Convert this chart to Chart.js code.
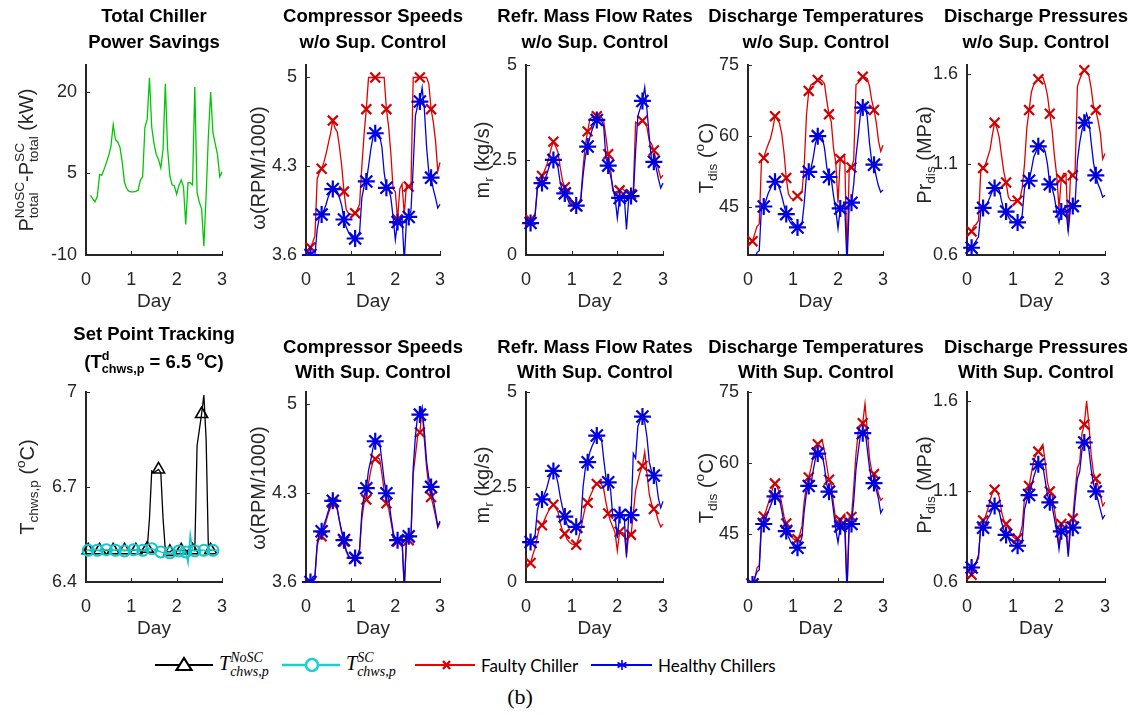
<!DOCTYPE html>
<html>
<head>
<meta charset="utf-8">
<script src="https://cdn.jsdelivr.net/npm/chart.js@4.4.1/dist/chart.umd.min.js"></script>
<style>
  html, body { margin: 0; padding: 0; background: #fff; }
  body { width: 1139px; height: 715px; position: relative; overflow: hidden; font-family: "Liberation Sans", Arial, sans-serif; }
  canvas { position: absolute; }
  .ttl { position: absolute; transform: translateX(-50%); font-weight: bold; font-size: 18.5px; line-height: 26px; text-align: center; white-space: nowrap; color: #000; z-index: 2; }
  .yl { position: absolute; transform: translate(-50%, -50%) rotate(-90deg); font-size: 20px; white-space: nowrap; color: #262626; z-index: 2; }
  .ss { display: inline-block; vertical-align: -0.4em; font-size: 0.68em; line-height: 1.0; text-align: left; }
  .ss > span { display: block; }
  .sb { font-size: 0.68em; vertical-align: -0.35em; line-height: 0; }
  .sp { font-size: 0.68em; vertical-align: 0.6em; line-height: 0; }
  .leg { position: absolute; top: 652px; height: 26px; display: flex; align-items: center; white-space: nowrap; }
  .leg svg { margin-right: 6px; }
  .lt { font-family: Lato, sans-serif; font-size: 17px; color: #000; }
  .m { font-family: "Liberation Serif", serif; font-style: italic; font-size: 20px; color: #000; }
  .m .ss { font-size: 0.7em; vertical-align: -0.45em; }
  .cap { position: absolute; left: 520px; top: 684px; transform: translateX(-50%); font-family: "Liberation Serif", serif; font-size: 22px; }
</style>
</head>
<body>

<!-- titres -->
<div class="ttl" style="left:154px;top:3px">Total Chiller<br>Power Savings</div>
<div class="ttl" style="left:373px;top:3px">Compressor Speeds<br>w/o Sup. Control</div>
<div class="ttl" style="left:595px;top:3px">Refr. Mass Flow Rates<br>w/o Sup. Control</div>
<div class="ttl" style="left:816px;top:3px">Discharge Temperatures<br>w/o Sup. Control</div>
<div class="ttl" style="left:1036px;top:3px">Discharge Pressures<br>w/o Sup. Control</div>

<div class="ttl" style="left:154px;top:320px;line-height:28px">Set Point Tracking<br>(T<span class="ss"><span>d</span><span>chws,p</span></span> = 6.5 <span class="sp">o</span>C)</div>
<div class="ttl" style="left:373px;top:334px;line-height:25px">Compressor Speeds<br>With Sup. Control</div>
<div class="ttl" style="left:595px;top:334px;line-height:25px">Refr. Mass Flow Rates<br>With Sup. Control</div>
<div class="ttl" style="left:816px;top:334px;line-height:25px">Discharge Temperatures<br>With Sup. Control</div>
<div class="ttl" style="left:1036px;top:334px;line-height:25px">Discharge Pressures<br>With Sup. Control</div>

<!-- axes y -->
<div class="yl" style="left:27px;top:160px">P<span class="ss"><span>NoSC</span><span>total</span></span>-P<span class="ss"><span>SC</span><span>total</span></span> (kW)</div>
<div class="yl" style="left:258px;top:168px">&omega;(RPM/1000)</div>
<div class="yl" style="left:482px;top:160px">m<span class="sb">r</span> (kg/s)</div>
<div class="yl" style="left:706px;top:158px">T<span class="sb">dis</span> (<span class="sp">o</span>C)</div>
<div class="yl" style="left:924px;top:155px">Pr<span class="sb">dis</span> (MPa)</div>

<div class="yl" style="left:27px;top:487px">T<span class="sb">chws,p</span> (<span class="sp">o</span>C)</div>
<div class="yl" style="left:258px;top:488px">&omega;(RPM/1000)</div>
<div class="yl" style="left:482px;top:485px">m<span class="sb">r</span> (kg/s)</div>
<div class="yl" style="left:706px;top:488px">T<span class="sb">dis</span> (<span class="sp">o</span>C)</div>
<div class="yl" style="left:924px;top:485px">Pr<span class="sb">dis</span> (MPa)</div>

<!-- leyenda -->
<div class="leg" style="left:155px">
  <svg width="58" height="20"><line x1="0" y1="10" x2="58" y2="10" stroke="#000" stroke-width="2"/><polygon points="29,3 36.5,15 21.5,15" fill="#fff" stroke="#000" stroke-width="2.2"/></svg>
  <span class="m">T<span class="ss"><span>NoSC</span><span>chws,p</span></span></span>
</div>
<div class="leg" style="left:282px">
  <svg width="58" height="20"><line x1="0" y1="10" x2="58" y2="10" stroke="#19d1d1" stroke-width="2.5"/><circle cx="30" cy="10" r="6" fill="#fff" stroke="#19d1d1" stroke-width="2.5"/></svg>
  <span class="m">T<span class="ss"><span>SC</span><span>chws,p</span></span></span>
</div>
<div class="leg" style="left:415px">
  <svg width="60" height="20"><line x1="0" y1="10" x2="60" y2="10" stroke="#f00000" stroke-width="2"/><path d="M28 6 L35 14 M35 6 L28 14" stroke="#e00000" stroke-width="2.4"/></svg>
  <span class="lt">Faulty Chiller</span>
</div>
<div class="leg" style="left:591px">
  <svg width="61" height="20"><line x1="0" y1="10" x2="61" y2="10" stroke="#0000ff" stroke-width="2"/><path d="M31 5 L31 15 M26.5 7.5 L35.5 12.5 M35.5 7.5 L26.5 12.5" stroke="#0000ff" stroke-width="1.6"/></svg>
  <span class="lt">Healthy Chillers</span>
</div>
<div class="cap">(b)</div>

<script>
// Eje x compartido (días)
const days = [0, 0.05, 0.1, 0.15, 0.2, 0.25, 0.3, 0.35, 0.4, 0.45, 0.5, 0.55, 0.6, 0.65, 0.7, 0.75, 0.8, 0.85, 0.9, 0.95,
  1, 1.05, 1.1, 1.15, 1.2, 1.25, 1.3, 1.35, 1.4, 1.45, 1.5, 1.55, 1.6, 1.65, 1.7, 1.75, 1.8, 1.85, 1.9, 1.95,
  2, 2.05, 2.1, 2.15, 2.2, 2.25, 2.3, 2.35, 2.4, 2.45, 2.5, 2.55, 2.6, 2.65, 2.7, 2.75, 2.8, 2.85, 2.9, 2.95, 3];

// Ticks
const dayTicks = [0, 1, 2, 3];
const savingsTicks = [-10, 5, 20];
const speedTicks = [3.6, 4.3, 5];
const flowTicks = [0, 2.5, 5];
const tempTicks = [45, 60, 75];
const pressTicks = [0.6, 1.1, 1.6];
const setpointTicks = [6.4, 6.7, 7];

// Ahorro de potencia total (kW)
const savings = [null, null, 1.0, 0.3, -0.2, 0.8, 4.8, 4.7, 5.8, 7.0, 8.3, 10.0, 14.0, 11.2, 10.8, 9.8, 7.0, 3.3, 2.2, 1.7,
  1.6, 1.6, 1.7, 1.9, 3.8, 4.4, 13.5, 15.0, 22.6, 13.5, 10.5, 8.5, 7.6, 6.0, 9.5, 21.5, 9.5, 4.5, 2.9, 2.7,
  1.2, 2.8, 3.8, 2.6, -4.4, 3.3, 3.3, 2.9, 20.9, 1.5, -0.3, -1.5, -8.4, 1.0, 12.0, 20.0, 12.5, 10.5, 8.5, 4.4, 5.3];

// Sin control supervisor
const speedFaultyNoSC = [3.6, 3.63, 3.66, 3.7, 3.75, 4.2, 4.25, 4.28, 4.33, 4.4, 4.48, 4.56, 4.66, 4.6, 4.57, 4.45, 4.3, 4.1, 3.96, 3.93,
  3.92, 3.92, 3.93, 3.96, 4.0, 4.3, 4.55, 4.75, 5, 5, 5, 5, 5, 5, 5, 5, 4.75, 4.61, 4.4, 4.12,
  4.1, 3.88, 4.12, 4.16, 3.92, 4.16, 4.14, 4.14, 5, 5, 5, 5, 5, 5, 5, 4.95, 4.75, 4.65, 4.5, 4.26, 4.33];
const speedHealthyNoSC = [3.6, 3.6, 3.6, 3.6, 3.6, 3.8, 3.9, 3.92, 3.95, 4.0, 4.06, 4.1, 4.12, 4.12, 4.1, 4.05, 3.99, 3.88, 3.82, 3.78,
  3.75, 3.73, 3.73, 3.75, 3.78, 4.05, 4.14, 4.18, 4.3, 4.43, 4.53, 4.56, 4.56, 4.54, 4.45, 4.25, 4.13, 4.13, 4.05, 3.9,
  3.72, 3.86, 3.86, 3.9, 3.55, 3.88, 3.9, 3.95, 4.3, 4.7, 4.78, 4.81, 4.92, 4.75, 4.45, 4.25, 4.21, 4.12, 4.05, 3.97, 4.0];
const flowFaultyNoSC = [0.97, 0.95, 0.92, 1.0, 1.09, 1.8, 1.98, 2.08, 2.2, 2.35, 2.55, 2.8, 2.98, 2.85, 2.7, 2.3, 1.95, 1.78, 1.6, 1.42,
  1.35, 1.32, 1.3, 1.35, 1.5, 2.3, 2.9, 3.25, 3.58, 3.62, 3.63, 3.65, 3.66, 3.62, 3.55, 3.1, 2.65, 2.3, 1.68, 1.65,
  1.67, 1.7, 1.76, 1.7, 1.64, 1.62, 1.6, 1.7, 3.49, 3.45, 3.5, 3.53, 3.48, 3.35, 3.0, 2.92, 2.75, 2.48, 2.25, 2.02, 2.1];
const flowHealthyNoSC = [0.88, 0.86, 0.84, 0.95, 1.05, 1.75, 1.89, 1.89, 1.95, 2.1, 2.3, 2.45, 2.5, 2.45, 2.3, 1.9, 1.68, 1.62, 1.5, 1.36,
  1.32, 1.3, 1.3, 1.35, 1.45, 2.1, 2.6, 2.85, 3.1, 3.3, 3.45, 3.55, 3.57, 3.55, 3.4, 2.55, 2.35, 2.1, 1.8, 1.5,
  0.97, 1.5, 1.55, 1.55, 0.67, 1.5, 1.55, 1.55, 2.73, 3.66, 3.85, 4.05, 4.41, 3.8, 3.1, 2.48, 2.45, 2.3, 2.0, 1.76, 1.89];
const tempFaultyNoSC = [37.6, 37.7, 37.9, 39.5, 41.0, 41.5, 54.9, 55.4, 57.0, 58.3, 59.5, 61.5, 64.2, 63.5, 62.7, 60.5, 56.5, 51.2, 47.8, 47.0,
  46.7, 47.0, 47.4, 47.8, 48.2, 54.0, 64.5, 69.5, 70.8, 71.1, 71.4, 71.8, 72.0, 71.6, 71.0, 67.5, 64.6, 63.0, 57.5, 54.5,
  46.0, 55.2, 55.8, 55.6, 34.0, 53.4, 53.4, 55.0, 70.8, 71.2, 71.8, 72.5, 72.4, 72.1, 70.5, 67.5, 65.5, 62.9, 59.0, 56.8, 58.1];
const tempHealthyNoSC = [33, 33, 33, 34, 35.5, 35.9, 45.3, 45.2, 46.5, 48.0, 49.0, 50.0, 50.4, 50.2, 49.0, 47.4, 45.5, 43.6, 42.6, 41.7,
  41.2, 40.8, 40.8, 41.0, 41.5, 46.0, 51.8, 52.5, 53.3, 55.5, 58.5, 60.0, 60.2, 59.8, 57.5, 53.5, 51.4, 51.0, 47.5, 44.5,
  40.6, 44.8, 45.1, 45.3, 33, 45.6, 46.0, 50, 55.8, 60, 64.8, 66.0, 66.8, 64.0, 58.5, 54.6, 54.0, 51.5, 49.5, 48.2, 48.7];
const pressFaultyNoSC = [0.71, 0.72, 0.73, 0.76, 0.77, 0.79, 1.07, 1.08, 1.1, 1.14, 1.18, 1.26, 1.33, 1.3, 1.25, 1.15, 1.06, 1.0, 0.92, 0.9,
  0.9, 0.9, 0.9, 0.91, 0.97, 1.1, 1.3, 1.4, 1.5, 1.54, 1.56, 1.57, 1.58, 1.58, 1.54, 1.48, 1.38, 1.29, 1.15, 1.04,
  0.86, 1.02, 1.05, 1.05, 0.73, 1.04, 1.04, 1.06, 1.53, 1.57, 1.6, 1.62, 1.61, 1.59, 1.52, 1.42, 1.4, 1.34, 1.27, 1.13, 1.16];
const pressHealthyNoSC = [0.63, 0.635, 0.64, 0.66, 0.68, 0.7, 0.84, 0.86, 0.87, 0.89, 0.92, 0.95, 0.97, 0.97, 0.96, 0.9, 0.85, 0.84, 0.81, 0.79,
  0.78, 0.78, 0.78, 0.79, 0.82, 0.97, 1.0, 1.01, 1.07, 1.14, 1.17, 1.2, 1.21, 1.2, 1.17, 1.1, 0.99, 0.97, 0.92, 0.84,
  0.78, 0.84, 0.85, 0.85, 0.73, 0.86, 0.87, 0.88, 1.12, 1.22, 1.29, 1.33, 1.38, 1.34, 1.22, 1.11, 1.04, 0.99, 0.96, 0.92, 0.93];

// Seguimiento del set point (°C)
const chwsNoSC = [6.5, 6.5, 6.5, 6.5, 6.5, 6.5, 6.5, 6.5, 6.5, 6.5, 6.5, 6.5, 6.5, 6.5, 6.5, 6.5, 6.5, 6.5, 6.5, 6.5,
  6.5, 6.5, 6.5, 6.5, 6.5, 6.5, 6.5, 6.505, 6.6, 6.75, 6.745, 6.75, 6.755, 6.745, 6.6, 6.5, 6.495, 6.495, 6.5, 6.5,
  6.5, 6.5, 6.5, 6.5, 6.5, 6.5, 6.5, 6.5, 6.5, 6.83, 6.88, 6.93, 6.99, 6.85, 6.5, 6.5, 6.5, null, null, null, null];
const chwsSC = [6.5, 6.5, 6.498, 6.5, 6.502, 6.5, 6.498, 6.5, 6.5, 6.502, 6.5, 6.498, 6.5, 6.5, 6.502, 6.5, 6.5, 6.498, 6.5, 6.5,
  6.5, 6.502, 6.5, 6.5, 6.498, 6.5, 6.5, 6.502, 6.505, 6.505, 6.502, 6.5, 6.498, 6.495, 6.492, 6.49, 6.49, 6.492, 6.49, 6.495,
  6.5, 6.498, 6.502, 6.49, 6.495, 6.46, 6.55, 6.5, 6.498, 6.5, 6.502, 6.5, 6.5, 6.498, 6.5, 6.502, 6.5, 6.5, 6.5, null, null];

// Con control supervisor
const speedFaultySC = [3.55, 3.57, 3.59, 3.62, 3.64, 3.88, 3.96, 3.96, 4.02, 4.08, 4.14, 4.19, 4.22, 4.2, 4.17, 4.08, 3.99, 3.92, 3.84, 3.8,
  3.79, 3.79, 3.79, 3.8, 3.85, 4.1, 4.22, 4.25, 4.38, 4.48, 4.55, 4.57, 4.58, 4.57, 4.45, 4.32, 4.22, 4.18, 4.08, 3.98,
  3.92, 3.92, 3.93, 3.93, 3.55, 3.93, 3.93, 3.94, 4.45, 4.6, 4.75, 4.78, 4.96, 4.72, 4.5, 4.35, 4.27, 4.2, 4.12, 4.03, 4.07];
const speedHealthySC = [3.55, 3.58, 3.6, 3.64, 3.65, 3.9, 3.99, 4.0, 4.05, 4.1, 4.16, 4.21, 4.24, 4.22, 4.18, 4.08, 4.0, 3.93, 3.85, 3.81,
  3.79, 3.79, 3.79, 3.81, 3.86, 4.15, 4.28, 4.34, 4.48, 4.56, 4.66, 4.71, 4.71, 4.7, 4.55, 4.4, 4.3, 4.26, 4.12, 4.0,
  3.92, 3.93, 3.93, 3.94, 3.55, 3.95, 3.96, 3.97, 4.5, 4.75, 4.92, 4.92, 4.98, 4.78, 4.55, 4.42, 4.35, 4.25, 4.15, 4.04, 4.08];
const flowFaultySC = [0.48, 0.46, 0.5, 0.72, 0.9, 1.2, 1.45, 1.49, 1.62, 1.76, 1.88, 1.98, 2.03, 1.95, 1.85, 1.55, 1.35, 1.27, 1.12, 1.05,
  1.0, 0.98, 0.98, 1.15, 1.38, 1.7, 1.98, 2.08, 2.25, 2.38, 2.52, 2.58, 2.62, 2.58, 2.45, 2.1, 1.8, 1.6, 1.45, 1.3,
  0.82, 1.32, 1.3, 1.28, 0.73, 1.24, 1.24, 1.8, 2.4, 2.66, 2.9, 3.05, 3.42, 2.83, 2.3, 2.05, 1.92, 1.82, 1.6, 1.45, 1.53];
const flowHealthySC = [1.03, 1.04, 1.05, 1.12, 1.24, 1.9, 2.12, 2.17, 2.3, 2.45, 2.68, 2.85, 2.92, 2.85, 2.6, 2.24, 1.95, 1.72, 1.5, 1.45,
  1.45, 1.45, 1.45, 1.5, 1.6, 2.5, 3.0, 3.15, 3.42, 3.58, 3.71, 3.85, 3.88, 3.8, 3.25, 2.75, 2.62, 2.45, 1.74, 1.74,
  1.15, 1.76, 1.76, 1.76, 0.65, 1.76, 1.76, 3.38, 3.25, 4.09, 4.26, 4.35, 4.2, 3.8, 3.15, 2.9, 2.8, 2.66, 2.2, 1.95, 2.12];
const tempFaultySC = [33, 33, 33, 35.5, 38, 38.5, 48.3, 48.8, 50, 51.5, 53, 54.8, 55.7, 55, 53.7, 51.5, 48.8, 47.3, 46, 45,
  44.2, 43.8, 44, 45, 46.8, 52, 55.5, 57, 59, 61.5, 63, 64, 64.5, 64.8, 62.5, 59.5, 56.5, 55.4, 51.5, 48.2,
  47.7, 48, 48.8, 49.3, 33, 48.7, 48.7, 55, 62, 66.5, 68, 68.4, 72.5, 67, 61, 58.3, 57.7, 56, 53.5, 52.2, 52.7];
const tempHealthySC = [33, 33, 34.5, 36, 37.1, 37.6, 47, 47.2, 48.5, 49.8, 51, 52.3, 53, 52.8, 52.4, 50, 47.5, 45.7, 44.5, 43.4,
  42.7, 42.1, 42.2, 43, 44.5, 50, 53.8, 55.2, 55.7, 58.5, 61, 62, 62.1, 61.8, 59.1, 55.5, 54, 53.7, 50, 46,
  43.3, 46.7, 46.6, 46.5, 33, 47, 47.2, 52, 58.8, 62.5, 66, 66.3, 67, 63, 59, 56.2, 55.8, 54.5, 52.5, 49.5, 50.4];
const pressFaultySC = [0.63, 0.63, 0.64, 0.67, 0.71, 0.73, 0.93, 0.94, 0.96, 1.0, 1.05, 1.09, 1.11, 1.1, 1.07, 0.99, 0.94, 0.92, 0.9, 0.87,
  0.85, 0.84, 0.84, 0.86, 0.91, 1.06, 1.1, 1.13, 1.2, 1.27, 1.3, 1.32, 1.34, 1.36, 1.26, 1.15, 1.1, 1.08, 1.0, 0.92,
  0.79, 0.92, 0.93, 0.93, 0.76, 0.94, 0.95, 1.1, 1.23, 1.26, 1.42, 1.47, 1.6, 1.47, 1.3, 1.2, 1.17, 1.13, 1.08, 1.02, 1.04];
const pressHealthySC = [0.67, 0.67, 0.68, 0.69, 0.71, 0.75, 0.9, 0.9, 0.92, 0.95, 0.97, 1.0, 1.02, 1.01, 0.99, 0.93, 0.89, 0.86, 0.84, 0.81,
  0.8, 0.8, 0.8, 0.81, 0.83, 1.0, 1.05, 1.08, 1.13, 1.18, 1.22, 1.25, 1.25, 1.24, 1.16, 1.08, 1.04, 1.02, 0.95, 0.88,
  0.78, 0.88, 0.89, 0.89, 0.74, 0.89, 0.9, 1.05, 1.17, 1.21, 1.33, 1.37, 1.38, 1.33, 1.22, 1.14, 1.1, 1.05, 1.0, 0.95, 0.97];

// Indices donde van los marcadores
const markerIdx = [2, 7, 12, 17, 22, 27, 31, 36, 41, 46, 51, 56];
const triIdx = [1, 6, 12, 17, 22, 27, 32, 37, 42, 47, 51, 55];
const circleIdx = [1, 5, 9, 13, 17, 21, 25, 29, 33, 37, 41, 44, 48, 52, 56];

// Estilos de cada serie
const looks = {
  savings: { color: '#00c800', width: 1.3 },
  faulty: { color: '#e00000', width: 1.3, style: 'crossRot', mark: '#d00000', mw: 2.2, r: 7, idx: markerIdx },
  healthy: { color: '#0000e0', width: 1.3, style: 'star', mark: '#0000e0', mw: 2.2, r: 8.5, idx: markerIdx },
  nosc: { color: '#000000', width: 1.3, style: 'triangle', mark: '#000000', mw: 1.6, r: 7, idx: triIdx },
  sc: { color: '#12c8c8', width: 1.5, style: 'circle', mark: '#12c8c8', mw: 2, r: 5.5, idx: circleIdx }
};

function serie(values, look) {
  const L = looks[look];
  return {
    data: values.map((v, i) => ({ x: days[i], y: v })),
    borderColor: L.color,
    borderWidth: L.width,
    pointStyle: L.style || 'circle',
    pointBorderColor: L.mark || L.color,
    pointBackgroundColor: 'rgba(0,0,0,0)',
    pointBorderWidth: L.mw || 1,
    pointRadius: L.idx ? (c => L.idx.includes(c.dataIndex) ? L.r : 0) : 0,
    pointHoverRadius: 0,
    tension: 0,
    fill: false,
    clip: { left: 10, top: 10, right: 10, bottom: 1 }
  };
}

// Paneles: caja del area de trazado [izq, arriba, der, abajo]
const panels = [
  { box: [86, 57, 222, 255], y: [-10, 25], ticks: savingsTicks, sets: [[savings, 'savings']] },
  { box: [306, 57, 440, 255], y: [3.6, 5.1], ticks: speedTicks, sets: [[speedHealthyNoSC, 'healthy'], [speedFaultyNoSC, 'faulty']] },
  { box: [526, 57, 663, 255], y: [0, 5], ticks: flowTicks, sets: [[flowHealthyNoSC, 'healthy'], [flowFaultyNoSC, 'faulty']] },
  { box: [748, 57, 883, 255], y: [35, 75], ticks: tempTicks, sets: [[tempHealthyNoSC, 'healthy'], [tempFaultyNoSC, 'faulty']] },
  { box: [967, 57, 1105, 255], y: [0.6, 1.65], ticks: pressTicks, sets: [[pressHealthyNoSC, 'healthy'], [pressFaultyNoSC, 'faulty']] },
  { box: [86, 384, 222, 582], y: [6.4, 7], ticks: setpointTicks, sets: [[chwsSC, 'sc'], [chwsNoSC, 'nosc']] },
  { box: [306, 384, 440, 582], y: [3.6, 5.1], ticks: speedTicks, sets: [[speedHealthySC, 'healthy'], [speedFaultySC, 'faulty']] },
  { box: [526, 384, 663, 582], y: [0, 5], ticks: flowTicks, sets: [[flowHealthySC, 'healthy'], [flowFaultySC, 'faulty']] },
  { box: [748, 384, 883, 582], y: [35, 75], ticks: tempTicks, sets: [[tempHealthySC, 'healthy'], [tempFaultySC, 'faulty']] },
  { box: [967, 384, 1105, 582], y: [0.6, 1.65], ticks: pressTicks, sets: [[pressHealthySC, 'healthy'], [pressFaultySC, 'faulty']] }
];

const PADL = 70, PADR = 20, PADT = 12, PADB = 60;
const axisColor = '#262626';

// Ticks hacia adentro, estilo MATLAB
const inwardTicks = {
  id: 'inwardTicks',
  afterDraw(chart) {
    const { ctx, chartArea: a, scales: { x, y } } = chart;
    ctx.save();
    ctx.strokeStyle = axisColor;
    ctx.lineWidth = 1;
    x.ticks.forEach(t => {
      const px = Math.round(x.getPixelForValue(t.value)) + 0.5;
      ctx.beginPath(); ctx.moveTo(px, a.bottom); ctx.lineTo(px, a.bottom - 4); ctx.stroke();
    });
    y.ticks.forEach(t => {
      const py = Math.round(y.getPixelForValue(t.value)) + 0.5;
      ctx.beginPath(); ctx.moveTo(a.left, py); ctx.lineTo(a.left + 4, py); ctx.stroke();
    });
    ctx.restore();
  }
};

Chart.defaults.font.family = '"Liberation Sans", Arial, sans-serif';

panels.forEach(p => {
  const [l, t, r, b] = p.box;
  const W = r - l + PADL + PADR, H = b - t + PADT + PADB;
  const cv = document.createElement('canvas');
  cv.width = W; cv.height = H;
  cv.style.left = (l - PADL) + 'px';
  cv.style.top = (t - PADT) + 'px';
  cv.style.width = W + 'px';
  cv.style.height = H + 'px';
  document.body.appendChild(cv);

  new Chart(cv, {
    type: 'line',
    data: { datasets: p.sets.map(s => serie(s[0], s[1])) },
    options: {
      responsive: false,
      animation: false,
      devicePixelRatio: 1,
      events: [],
      layout: { autoPadding: false, padding: { top: PADT, right: PADR, left: 0, bottom: 0 } },
      plugins: { legend: { display: false }, tooltip: { enabled: false } },
      scales: {
        x: {
          type: 'linear', min: 0, max: 3,
          afterBuildTicks: s => { s.ticks = dayTicks.map(v => ({ value: v })); },
          afterFit: s => { s.height = PADB; },
          ticks: { padding: 14, color: axisColor, font: { size: 18 }, maxRotation: 0, autoSkip: false, callback: v => String(v) },
          grid: { display: true, drawOnChartArea: false, drawTicks: false },
          border: { display: true, color: axisColor, width: 2 },
          title: { display: true, text: 'Day', color: axisColor, font: { size: 19 }, padding: { top: 0, bottom: 2 } }
        },
        y: {
          type: 'linear', min: p.y[0], max: p.y[1],
          afterBuildTicks: s => { s.ticks = p.ticks.map(v => ({ value: v })); },
          afterFit: s => { s.width = PADL; },
          ticks: { padding: 9, color: axisColor, font: { size: 18 }, autoSkip: false, callback: v => String(v) },
          grid: { display: true, drawOnChartArea: false, drawTicks: false },
          border: { display: true, color: axisColor, width: 2 }
        }
      }
    },
    plugins: [inwardTicks]
  });
});
</script>
</body>
</html>
